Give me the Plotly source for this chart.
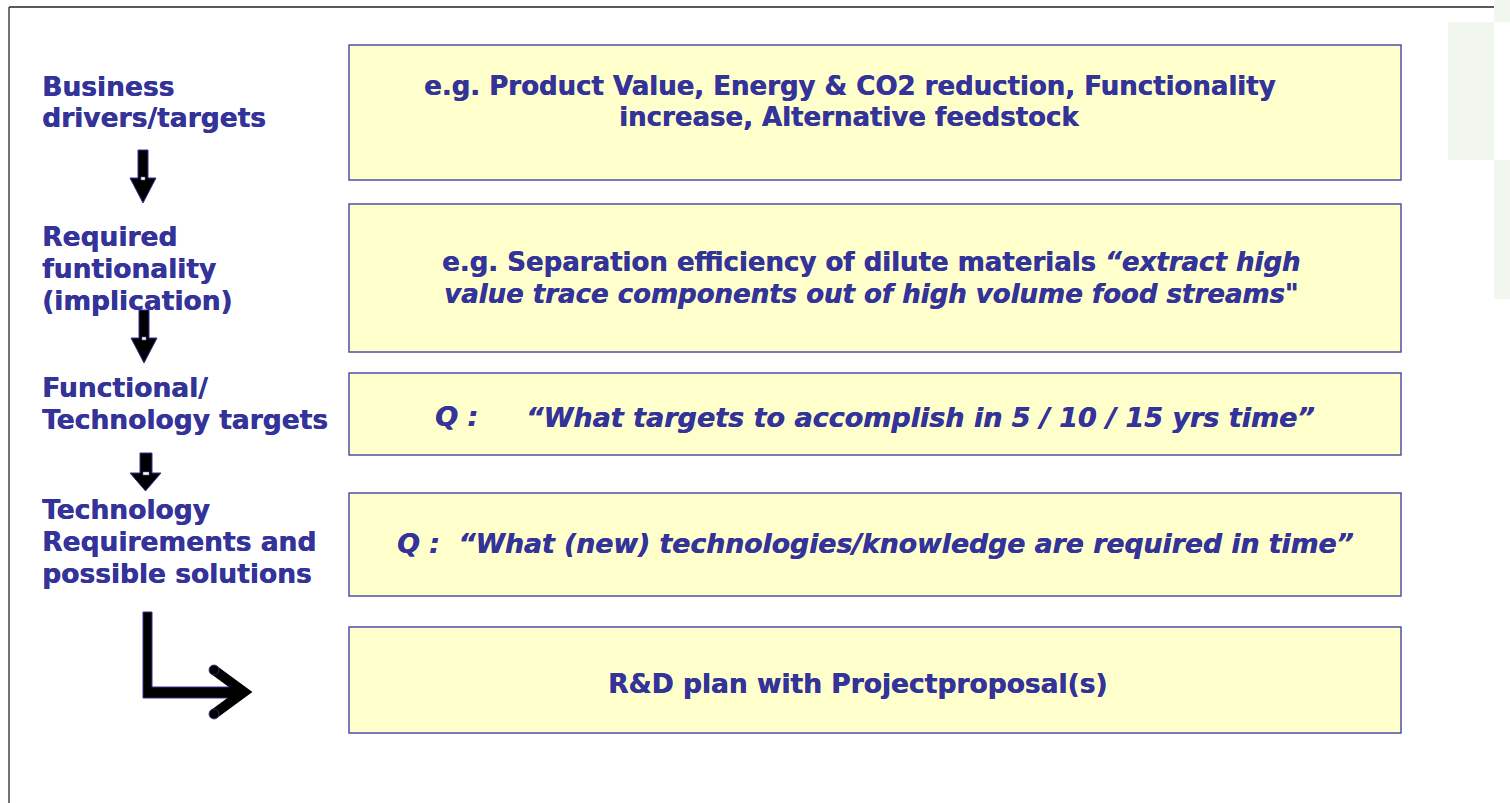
import plotly.graph_objects as go

# ---- content ----
step_labels = [
    ["Business", "drivers/targets"],
    ["Required", "funtionality", "(implication)"],
    ["Functional/", "Technology targets"],
    ["Technology", "Requirements and", "possible solutions"],
]
box_lines = [
    ["<b>e.g. Product Value, Energy &amp; CO2 reduction, Functionality</b>",
     "<b>increase, Alternative feedstock</b>"],
    ["<b>e.g. Separation efficiency of dilute materials <i>“extract high</i></b>",
     "<b><i>value trace components out of high volume food streams</i>\"</b>"],
    ["<b><i>“What targets to accomplish in 5 / 10 / 15 yrs time”</i></b>"],
    ["<b><i>Q :  “What (new) technologies/knowledge are required in time”</i></b>"],
    ["<b>R&amp;D plan with Projectproposal(s)</b>"],
]
q_label = "<b><i>Q :</i></b>"

# ---- layout geometry (pixels) ----
W, H = 1510, 803
TXT = "#333399"
FONT = "DejaVu Sans"
FS = 26
SHADOW = "0.45px 0px 0px #333399"
box_x0, box_x1 = 349, 1401
box_y = [(45, 180), (204, 352), (373, 455), (493, 596), (627, 733)]
box_cx = [849, 871, 920, 875, 857]
box_fs = [26, 26, 27, 26.7, 26.5]
box_text_y = [[86, 117], [262, 294], [417], [543], [683]]
label_x = 39.5
label_fs = 26.5
label_y = [[86, 117], [236, 268, 300], [387, 419], [509, 541, 573]]

# down arrows: (shaft x0, x1, top, head top, head x0, x1, tip)
down_arrows = [
    (138, 148, 150, 178, 130, 156, 203),
    (139, 149, 310, 338, 131, 157, 363),
    (140, 152, 453, 473, 130, 161, 491),
]

fig = go.Figure()
shapes = []
annotations = []

# background decorative squares (light green)
for (x0, x1, y0, y1) in [(1448, 1494, 22, 160), (1494, 1512, -2, 22), (1494, 1512, 160, 299)]:
    shapes.append(dict(type="rect", xref="x", yref="y", x0=x0, x1=x1, y0=y0, y1=y1,
                       fillcolor="#f1f6ef", line=dict(width=0), layer="below"))

# frame lines
shapes.append(dict(type="line", xref="x", yref="y", x0=9, x1=1494, y0=7, y1=7,
                   line=dict(color="#222222", width=1.5)))
shapes.append(dict(type="line", xref="x", yref="y", x0=9, x1=9, y0=7, y1=805,
                   line=dict(color="#444444", width=1.5)))

# boxes
for (y0, y1) in box_y:
    shapes.append(dict(type="rect", xref="x", yref="y", x0=box_x0, x1=box_x1, y0=y0, y1=y1,
                       fillcolor="#ffffcc", line=dict(color="#4f4fa8", width=1.5)))

# down arrows
for (sx0, sx1, top, ht, hx0, hx1, tip) in down_arrows:
    cx = (hx0 + hx1) / 2
    path = (f"M {sx0},{top} L {sx1},{top} L {sx1},{ht} L {hx1},{ht} L {cx},{tip} "
            f"L {hx0},{ht} L {sx0},{ht} Z")
    shapes.append(dict(type="path", xref="x", yref="y", path=path,
                       fillcolor="black", line=dict(color="#333399", width=1)))
    shapes.append(dict(type="rect", xref="x", yref="y", x0=sx0 + 3, x1=sx1 - 3, y0=ht - 1, y1=ht + 2,
                       fillcolor="white", line=dict(color="#6666aa", width=0.6)))

# bent arrow
shapes.append(dict(type="path", xref="x", yref="y",
                   path="M 143,612 L 152,612 L 152,687 L 240,687 L 240,698 L 143,698 Z",
                   fillcolor="black", line=dict(color="#333399", width=1)))
shapes.append(dict(type="path", xref="x", yref="y",
                   path="M 214,670 L 244,692 L 214,714",
                   line=dict(color="black", width=10)))
for (cx, cy) in [(214, 670), (214, 714)]:
    shapes.append(dict(type="circle", xref="x", yref="y", x0=cx - 5, x1=cx + 5, y0=cy - 5, y1=cy + 5,
                       fillcolor="black", line=dict(color="#333399", width=0.8)))

# left labels
for lines, ys in zip(step_labels, label_y):
    for t, y in zip(lines, ys):
        annotations.append(dict(x=label_x, y=y, xref="x", yref="y", text=f"<b>{t}</b>",
                                showarrow=False, xanchor="left", yanchor="middle",
                                font=dict(family=FONT, size=label_fs, color=TXT, shadow=SHADOW)))

# box texts
for lines, ys, cx, fs in zip(box_lines, box_text_y, box_cx, box_fs):
    for t, y in zip(lines, ys):
        annotations.append(dict(x=cx, y=y, xref="x", yref="y", text=t,
                                showarrow=False, xanchor="center", yanchor="middle",
                                font=dict(family=FONT, size=fs, color=TXT, shadow=SHADOW)))
annotations.append(dict(x=433, y=416, xref="x", yref="y", text=q_label, showarrow=False,
                        xanchor="left", yanchor="middle",
                        font=dict(family=FONT, size=27, color=TXT, shadow=SHADOW)))

fig.update_layout(
    width=W, height=H, margin=dict(l=0, r=0, t=0, b=0),
    paper_bgcolor="white", plot_bgcolor="white",
    xaxis=dict(range=[0, W], visible=False, fixedrange=True),
    yaxis=dict(range=[H, 0], visible=False, fixedrange=True),
    shapes=shapes, annotations=annotations, showlegend=False,
)

fig.write_html("out.html", config={"displayModeBar": False},
               post_script="document.body.style.margin='0';document.body.style.overflow='hidden';")
